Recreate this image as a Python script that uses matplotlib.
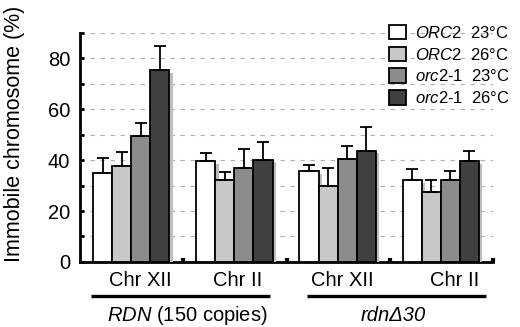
import numpy as np
import matplotlib
matplotlib.use('Agg')
import matplotlib.pyplot as plt
import matplotlib.patheffects as pe
from matplotlib.patches import Patch

plt.rcParams['font.family'] = ['Liberation Sans', 'DejaVu Sans']
plt.rcParams['mathtext.fontset'] = 'custom'
plt.rcParams['mathtext.rm'] = 'Liberation Sans'
plt.rcParams['mathtext.it'] = 'Liberation Sans:italic'

# data
categories = ['Chr XII', 'Chr II', 'Chr XII', 'Chr II']
series = [r'$\it{ORC2}$  23°C', r'$\it{ORC2}$  26°C',
          r'$\it{orc2}$-$\it{1}$  23°C', r'$\it{orc2}$-$\it{1}$  26°C']
means = [[35.0, 39.7, 35.6, 32.3],
         [37.6, 32.1, 30.0, 27.3],
         [49.7, 37.1, 40.6, 32.3],
         [75.3, 40.2, 43.8, 39.6]]
errs = [[5.9, 3.0, 2.4, 4.2],
        [5.5, 3.4, 6.8, 5.0],
        [5.1, 7.4, 5.1, 3.4],
        [9.5, 7.0, 9.3, 4.2]]
colors = ['white', '#c8c8c8', '#8c8c8c', '#404040']

fig = plt.figure(figsize=(5.2, 3.27), dpi=100)
ax = fig.add_axes([0.154, 0.199, 0.794, 0.700])

x = np.arange(len(categories))
w = 0.185
shadow = [pe.SimplePatchShadow(offset=(2.5, -2), shadow_rgbFace='#bdbdbd', alpha=1.0), pe.Normal()]
for i in range(4):
    xs = x + 0.125 + i * w
    ax.bar(xs, means[i], width=w, align='edge', color=colors[i], edgecolor='black',
           linewidth=1.3, zorder=3, path_effects=shadow)
    ax.errorbar(xs + w / 2, means[i], yerr=[np.zeros(4), errs[i]], fmt='none',
                ecolor='black', elinewidth=1.3, capsize=4.3, capthick=1.3, zorder=4)

ax.set_xlim(0, 4)
ax.set_ylim(0, 90)
ax.set_yticks(np.arange(0, 81, 20))
ax.set_yticks(np.arange(10, 91, 10), minor=True)
ax.yaxis.grid(True, which='both', linestyle=(0, (4, 5)), color='#b0b0b0', linewidth=0.8)
ax.set_axisbelow(True)
ax.tick_params(axis='y', which='both', direction='in', length=3, width=2, labelsize=14.5, pad=7)
ax.set_xticks([1, 2, 3, 4])
ax.set_xticklabels([])
ax.tick_params(axis='x', direction='in', length=3, width=3)
for s in ['top', 'right']:
    ax.spines[s].set_visible(False)
ax.spines['left'].set_linewidth(2)
ax.spines['bottom'].set_linewidth(2)
ax.set_ylabel('Immobile chromosome (%)', fontsize=15.5)
ax.yaxis.set_label_coords(-0.133, 0.56)

# category and group labels under the axis
tr = ax.get_xaxis_transform()
cat_pos = [0.58, 1.53, 2.54, 3.63]
for p, c in zip(cat_pos, categories):
    ax.text(p, -0.079, c, transform=tr, ha='center', va='center', fontsize=14.5)
for (a, b) in [(0.106, 1.84), (2.20, 3.93)]:
    ax.plot([a, b], [-0.148, -0.148], transform=tr, color='black',
            linewidth=2.4, clip_on=False, solid_capstyle='butt')
ax.text(1.035, -0.235, r'$\it{RDN}$ (150 copies)', transform=tr, ha='center', va='center', fontsize=14.5)
ax.text(3.03, -0.235, 'rdnΔ30', transform=tr, ha='center', va='center', fontsize=14.5, style='italic')

handles = [Patch(facecolor=c, edgecolor='black', linewidth=1.3) for c in colors]
fig.legend(handles, series, loc='upper right', bbox_to_anchor=(0.997, 0.95), frameon=False,
           fontsize=12, handlelength=1.0, handleheight=0.95, handletextpad=0.55,
           labelspacing=0.35, borderaxespad=0.1)

fig.savefig('out.png', dpi=100)
